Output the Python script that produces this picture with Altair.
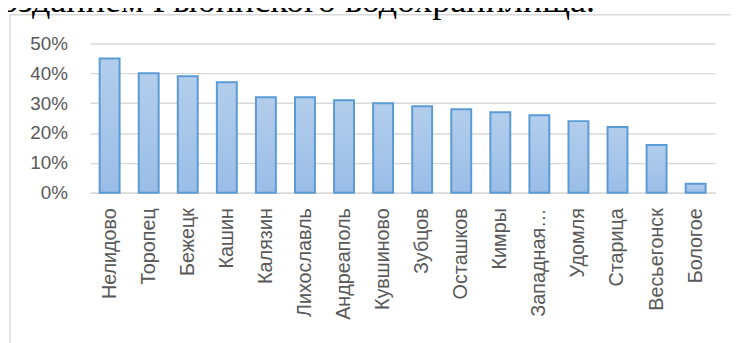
import altair as alt
import pandas as pd

towns = ["Нелидово", "Торопец", "Бежецк", "Кашин", "Калязин", "Лихославль",
         "Андреаполь", "Кувшиново", "Зубцов", "Осташков", "Кимры",
         "Западная Двина", "Удомля", "Старица", "Весьегонск", "Бологое"]
shares = [0.45, 0.40, 0.39, 0.37, 0.32, 0.32, 0.31, 0.30, 0.29, 0.28, 0.27,
          0.26, 0.24, 0.22, 0.16, 0.03]
y_ticks = [0, 0.1, 0.2, 0.3, 0.4, 0.5]
caption = "созданием Рыбинского водохранилища."

df = pd.DataFrame({"town": towns, "share": shares})

W, H = 632, 151
PAD = {"left": 83, "top": 34, "right": 16, "bottom": 150}

frame = alt.Chart(pd.DataFrame({"a": [0]})).mark_rect(
    fill=None, stroke="#D9D9D9", strokeWidth=1.5
).encode(
    x=alt.value(-81), x2=alt.value(W + 40),
    y=alt.value(-29), y2=alt.value(H + 200)
)

cap = alt.Chart(pd.DataFrame({"t": [caption]})).mark_text(
    font="Liberation Serif", fontSize=36.5, color="#000000",
    align="left", baseline="alphabetic"
).encode(
    x=alt.value(-107), y=alt.value(-32), text="t:N"
)

bars = alt.Chart(df).mark_bar(
    color=alt.Gradient(
        gradient="linear", x1=0, x2=0, y1=0, y2=1,
        stops=[alt.GradientStop(color="#B3CEEC", offset=0),
               alt.GradientStop(color="#9ABDE7", offset=1)]
    ),
    stroke="#5B9BD5", strokeWidth=2
).encode(
    x=alt.X("town:N", sort=towns,
            scale=alt.Scale(paddingInner=0.49, paddingOuter=0.245),
            axis=alt.Axis(title=None, labelAngle=-90, labelAlign="right",
                          labelBaseline="middle", labelPadding=15,
                          labelFontSize=20, labelColor="#595959",
                          labelFont="Liberation Sans", ticks=False,
                          domainColor="#D9D9D9", domainWidth=1.5,
                          labelLimit=200,
                          labelExpr="datum.label == 'Западная Двина' ? 'Западная…' : datum.label")),
    y=alt.Y("share:Q", scale=alt.Scale(domain=[0, 0.5], nice=False),
            axis=alt.Axis(title=None, values=y_ticks, format=".0%",
                          labelFontSize=19, labelColor="#595959",
                          labelFont="Liberation Sans", labelPadding=23,
                          ticks=False, domain=False, gridColor="#D9D9D9",
                          gridWidth=1.5))
)

chart = alt.layer(frame, cap, bars).properties(
    width=W, height=H,
    autosize=alt.AutoSizeParams(type="none"),
    padding=PAD
).configure(background="#FFFFFF").configure_view(stroke="transparent")

chart.save("out.html", embed_options={"renderer": "svg", "actions": False})
